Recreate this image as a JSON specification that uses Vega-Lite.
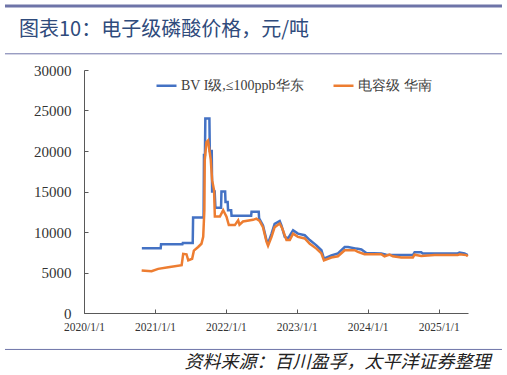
{
  "$schema": "https://vega.github.io/schema/vega-lite/v6.json",
  "width": 384,
  "height": 243,
  "autosize": {"type": "none"},
  "padding": {"left": 84, "top": 70, "right": 39, "bottom": 62},
  "background": "white",
  "title": {"text": "图表10：电子级磷酸价格，元/吨", "anchor": "start", "frame": "group", "dx": -65, "offset": 0, "dy": 35, "font": "Noto Sans CJK SC", "fontSize": 20, "fontWeight": "normal", "color": "#2F4B7C"},
  "config": {
    "view": {"stroke": null},
    "axis": {"grid": false, "domainColor": "#595959", "tickColor": "#595959", "labelColor": "#333333", "labelFont": "Liberation Serif"}
  },
  "datasets": {
    "blue": [
      {"d": "2020-10-25", "v": 8000}, {"d": "2021-01-30", "v": 8000}, {"d": "2021-02-01", "v": 8500},
      {"d": "2021-05-22", "v": 8500}, {"d": "2021-05-24", "v": 8650}, {"d": "2021-07-14", "v": 8650},
      {"d": "2021-07-16", "v": 11800}, {"d": "2021-09-08", "v": 11800}, {"d": "2021-09-10", "v": 19500},
      {"d": "2021-09-15", "v": 19500}, {"d": "2021-09-17", "v": 24000}, {"d": "2021-10-08", "v": 24000},
      {"d": "2021-10-10", "v": 20000}, {"d": "2021-10-20", "v": 20000}, {"d": "2021-10-22", "v": 15000},
      {"d": "2021-11-04", "v": 15000}, {"d": "2021-11-08", "v": 13000}, {"d": "2021-12-07", "v": 13000},
      {"d": "2021-12-09", "v": 15000}, {"d": "2021-12-28", "v": 15000}, {"d": "2021-12-30", "v": 13700},
      {"d": "2022-01-10", "v": 13700}, {"d": "2022-01-12", "v": 12700}, {"d": "2022-01-28", "v": 12700},
      {"d": "2022-01-30", "v": 12000}, {"d": "2022-05-11", "v": 12000}, {"d": "2022-05-13", "v": 12500},
      {"d": "2022-06-19", "v": 12500}, {"d": "2022-06-21", "v": 11700}, {"d": "2022-07-11", "v": 10800},
      {"d": "2022-07-29", "v": 9000}, {"d": "2022-08-06", "v": 8600}, {"d": "2022-08-24", "v": 9800},
      {"d": "2022-09-09", "v": 11000}, {"d": "2022-10-05", "v": 11350}, {"d": "2022-10-14", "v": 10800},
      {"d": "2022-10-31", "v": 9400}, {"d": "2022-11-17", "v": 9200}, {"d": "2022-12-13", "v": 10200},
      {"d": "2023-01-07", "v": 9800}, {"d": "2023-02-11", "v": 9600}, {"d": "2023-03-09", "v": 9000},
      {"d": "2023-04-12", "v": 8350}, {"d": "2023-05-08", "v": 7750}, {"d": "2023-05-21", "v": 6700},
      {"d": "2023-06-28", "v": 7100}, {"d": "2023-08-01", "v": 7350}, {"d": "2023-09-05", "v": 8150},
      {"d": "2023-09-22", "v": 8150}, {"d": "2023-11-04", "v": 7950}, {"d": "2023-11-30", "v": 7850},
      {"d": "2023-12-25", "v": 7400}, {"d": "2024-03-11", "v": 7350}, {"d": "2024-04-06", "v": 7200},
      {"d": "2024-06-22", "v": 7150}, {"d": "2024-08-21", "v": 7150}, {"d": "2024-08-30", "v": 7500},
      {"d": "2024-10-03", "v": 7500}, {"d": "2024-10-11", "v": 7350}, {"d": "2025-04-09", "v": 7350},
      {"d": "2025-04-18", "v": 7450}, {"d": "2025-05-14", "v": 7350}, {"d": "2025-05-31", "v": 7150}
    ],
    "orange": [
      {"d": "2020-10-24", "v": 5250}, {"d": "2020-12-14", "v": 5150}, {"d": "2021-01-17", "v": 5450},
      {"d": "2021-03-10", "v": 5650}, {"d": "2021-05-18", "v": 5900}, {"d": "2021-05-26", "v": 7300},
      {"d": "2021-06-12", "v": 7250}, {"d": "2021-06-21", "v": 6500}, {"d": "2021-07-11", "v": 6700},
      {"d": "2021-07-20", "v": 7700}, {"d": "2021-08-11", "v": 8150}, {"d": "2021-08-28", "v": 8550},
      {"d": "2021-09-06", "v": 9400}, {"d": "2021-09-12", "v": 12700}, {"d": "2021-09-14", "v": 18900},
      {"d": "2021-09-23", "v": 21100}, {"d": "2021-10-01", "v": 21300}, {"d": "2021-10-15", "v": 18900},
      {"d": "2021-10-22", "v": 16400}, {"d": "2021-11-01", "v": 15150}, {"d": "2021-11-05", "v": 11900},
      {"d": "2021-12-01", "v": 11900}, {"d": "2021-12-18", "v": 12700}, {"d": "2022-01-04", "v": 11900},
      {"d": "2022-01-16", "v": 10850}, {"d": "2022-02-16", "v": 10850}, {"d": "2022-03-05", "v": 11450},
      {"d": "2022-03-12", "v": 10900}, {"d": "2022-03-30", "v": 11300}, {"d": "2022-05-21", "v": 11500},
      {"d": "2022-06-07", "v": 11650}, {"d": "2022-06-24", "v": 11350}, {"d": "2022-07-11", "v": 10600},
      {"d": "2022-07-29", "v": 8800}, {"d": "2022-08-06", "v": 8300}, {"d": "2022-08-24", "v": 9400},
      {"d": "2022-09-09", "v": 10600}, {"d": "2022-10-05", "v": 11050}, {"d": "2022-10-19", "v": 10400},
      {"d": "2022-11-09", "v": 9000}, {"d": "2022-11-26", "v": 9000}, {"d": "2022-12-13", "v": 9800},
      {"d": "2023-01-07", "v": 9400}, {"d": "2023-02-11", "v": 9200}, {"d": "2023-03-09", "v": 8550},
      {"d": "2023-04-12", "v": 7950}, {"d": "2023-05-08", "v": 7350}, {"d": "2023-05-21", "v": 6500},
      {"d": "2023-06-28", "v": 6850}, {"d": "2023-08-01", "v": 7000}, {"d": "2023-09-05", "v": 7750},
      {"d": "2023-10-26", "v": 7750}, {"d": "2023-11-12", "v": 7550}, {"d": "2023-12-16", "v": 7250},
      {"d": "2024-03-11", "v": 7250}, {"d": "2024-03-28", "v": 7000}, {"d": "2024-04-23", "v": 7200},
      {"d": "2024-05-10", "v": 7000}, {"d": "2024-06-22", "v": 6850}, {"d": "2024-08-21", "v": 6850},
      {"d": "2024-08-30", "v": 7200}, {"d": "2024-10-03", "v": 7050}, {"d": "2024-12-11", "v": 7150},
      {"d": "2025-04-09", "v": 7150}, {"d": "2025-04-18", "v": 7250}, {"d": "2025-05-23", "v": 7150},
      {"d": "2025-05-31", "v": 7000}
    ]
  },
  "layer": [
    {
      "data": {"name": "blue"},
      "mark": {"type": "line", "strokeWidth": 2.5},
      "encoding": {
        "x": {
          "field": "d", "type": "temporal",
          "scale": {"type": "utc", "domain": [{"year": 2020, "month": 1, "date": 1, "utc": true}, {"year": 2025, "month": 6, "date": 1, "utc": true}]},
          "axis": {
            "values": [
              {"year": 2020, "month": 1, "date": 1, "utc": true}, {"year": 2021, "month": 1, "date": 1, "utc": true},
              {"year": 2022, "month": 1, "date": 1, "utc": true}, {"year": 2023, "month": 1, "date": 1, "utc": true},
              {"year": 2024, "month": 1, "date": 1, "utc": true}, {"year": 2025, "month": 1, "date": 1, "utc": true}
            ],
            "format": "%Y/%-m/%-d", "labelFontSize": 11.5, "tickSize": -4, "labelPadding": 12, "labelFlush": false,
            "title": "资料来源：百川盈孚，太平洋证券整理", "titleFont": "Noto Sans CJK SC", "titleFontStyle": "italic",
            "titleFontSize": 18, "titleFontWeight": "normal", "titleColor": "#222222",
            "titleX": 406, "titleY": 49, "titleAlign": "right", "titleBaseline": "middle"
          }
        },
        "y": {
          "field": "v", "type": "quantitative",
          "scale": {"domain": [0, 30000]},
          "axis": {"values": [0, 5000, 10000, 15000, 20000, 25000, 30000], "format": "d", "labelFontSize": 15, "tickSize": -4, "labelPadding": 17, "title": null}
        },
        "color": {
          "datum": "BV I级,≤100ppb华东",
          "scale": {"domain": ["BV I级,≤100ppb华东", "电容级 华南"], "range": ["#4472C4", "#ED7D31"]},
          "legend": {"orient": "none", "legendX": 71, "legendY": 4, "direction": "horizontal", "title": null,
            "symbolType": "stroke", "symbolStrokeWidth": 2.5, "symbolSize": 400, "labelFont": "Liberation Serif",
            "labelFontSize": 14, "labelColor": "#404040", "columnPadding": 24, "labelOffset": 3}
        }
      }
    },
    {
      "data": {"name": "orange"},
      "mark": {"type": "line", "strokeWidth": 2.5},
      "encoding": {
        "x": {"field": "d", "type": "temporal"},
        "y": {"field": "v", "type": "quantitative"},
        "color": {"datum": "电容级 华南"}
      }
    },
    {
      "data": {"values": [{}]},
      "mark": {"type": "rule", "strokeWidth": 3, "color": "#6E74A8"},
      "encoding": {
        "x": {"datum": {"year": 2018, "month": 11, "date": 20, "utc": true}, "type": "temporal"},
        "x2": {"datum": {"year": 2025, "month": 11, "date": 23, "utc": true}},
        "y": {"datum": 37900, "type": "quantitative"}
      }
    },
    {
      "data": {"values": [{}]},
      "mark": {"type": "rule", "strokeWidth": 1, "color": "#6E74A8"},
      "encoding": {
        "x": {"datum": {"year": 2018, "month": 11, "date": 20, "utc": true}, "type": "temporal"},
        "x2": {"datum": {"year": 2025, "month": 11, "date": 23, "utc": true}},
        "y": {"datum": 32000, "type": "quantitative"}
      }
    },
    {
      "data": {"values": [{}]},
      "mark": {"type": "rule", "strokeWidth": 1, "color": "#6E74A8"},
      "encoding": {
        "x": {"datum": {"year": 2018, "month": 11, "date": 20, "utc": true}, "type": "temporal"},
        "x2": {"datum": {"year": 2025, "month": 11, "date": 23, "utc": true}},
        "y": {"datum": -4500, "type": "quantitative"}
      }
    }
  ]
}
